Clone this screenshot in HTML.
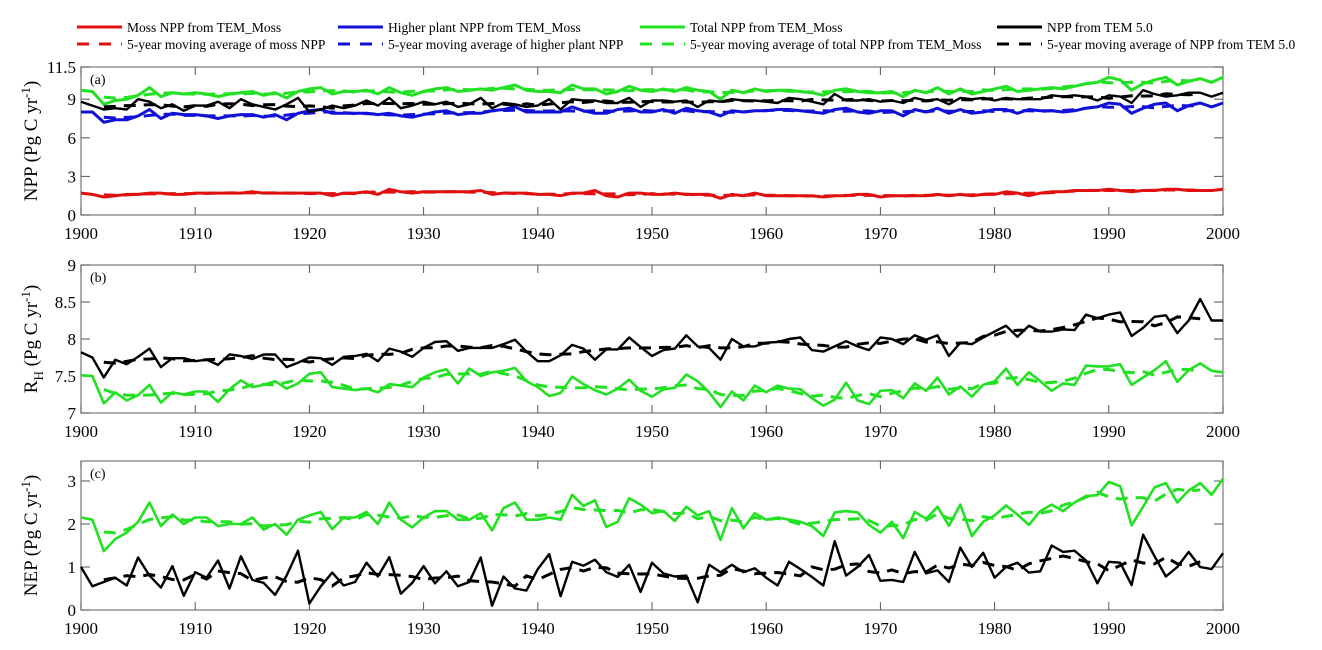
<!DOCTYPE html>
<html><head><meta charset="utf-8"><style>
html,body{margin:0;padding:0;background:#fff;}
svg{display:block;font-family:"Liberation Serif",serif;}
</style></head><body>
<svg id="chart" width="1322" height="650" viewBox="0 0 1322 650" xmlns="http://www.w3.org/2000/svg">
<g id="legend" font-size="13.5" fill="#000"></g>
</svg>
<script>
const years = []; for (let y = 1900; y <= 2000; y++) years.push(y);
const mossNPP = [1.7,1.6,1.4,1.5,1.6,1.6,1.7,1.7,1.6,1.6, 1.7,1.7,1.7,1.7,1.7,1.8,1.7,1.7,1.7,1.7, 1.7,1.7,1.5,1.7,1.7,1.8,1.6,2.0,1.8,1.7, 1.8,1.8,1.8,1.8,1.8,1.9,1.6,1.7,1.7,1.7, 1.6,1.6,1.5,1.7,1.7,1.9,1.5,1.4,1.7,1.7, 1.6,1.6,1.7,1.6,1.6,1.6,1.3,1.6,1.5,1.7, 1.5,1.5,1.5,1.5,1.5,1.4,1.5,1.5,1.6,1.6, 1.4,1.5,1.5,1.5,1.5,1.6,1.5,1.6,1.5,1.6, 1.6,1.8,1.7,1.5,1.7,1.8,1.8,1.9,1.9,1.9, 2.0,1.9,1.8,1.9,1.9,2.0,2.0,1.9,1.9,1.9, 2.0];
const higherNPP = [8.0,8.0,7.2,7.4,7.4,7.7,8.2,7.5,7.9,7.8, 7.8,7.7,7.5,7.7,7.8,7.8,7.6,7.8,7.4,7.9, 8.1,8.2,7.9,7.9,7.9,7.9,7.8,7.9,7.7,7.6, 7.8,8.0,8.1,7.8,7.9,7.9,8.1,8.2,8.4,8.0, 8.0,8.0,8.0,8.4,8.1,7.9,7.9,8.2,8.3,8.0, 8.0,8.2,7.9,8.3,8.1,8.0,7.7,8.1,8.0,8.1, 8.1,8.2,8.2,8.1,8.0,7.9,8.2,8.3,8.0,7.9, 8.1,8.1,7.7,8.2,8.0,8.3,7.9,8.2,7.9,8.0, 8.2,8.2,7.9,8.2,8.1,8.1,8.0,8.1,8.3,8.4, 8.7,8.6,7.9,8.3,8.6,8.7,8.1,8.5,8.7,8.4, 8.7];
const totalNPP = [9.7,9.6,8.6,8.9,9.0,9.3,9.9,9.2,9.5,9.4, 9.5,9.4,9.2,9.4,9.5,9.6,9.3,9.5,9.1,9.6, 9.8,9.9,9.4,9.6,9.6,9.7,9.4,9.9,9.5,9.3, 9.6,9.8,9.9,9.6,9.7,9.8,9.7,9.9,10.1,9.7, 9.6,9.6,9.5,10.1,9.8,9.8,9.4,9.6,10.0,9.7, 9.6,9.8,9.6,9.9,9.7,9.6,9.0,9.7,9.5,9.8, 9.6,9.7,9.7,9.6,9.5,9.3,9.7,9.8,9.6,9.5, 9.5,9.6,9.2,9.7,9.5,9.9,9.4,9.8,9.4,9.6, 9.8,10.0,9.6,9.7,9.8,9.9,9.8,10.0,10.2,10.3, 10.7,10.5,9.7,10.2,10.5,10.7,10.1,10.4,10.6,10.3, 10.7];
const tem5NPP = [8.8,8.5,8.2,8.3,8.2,9.0,8.8,8.3,8.6,8.1, 8.5,8.5,8.8,8.3,9.0,8.6,8.4,8.2,8.6,9.1, 8.0,8.2,8.5,8.3,8.5,8.9,8.5,9.1,8.3,8.5, 8.8,8.6,8.8,8.4,8.6,9.1,8.3,8.7,8.6,8.4, 8.5,9.0,8.2,9.0,8.9,8.9,8.7,8.7,9.1,8.4, 8.9,8.9,8.8,8.9,8.4,8.9,8.8,9.0,8.9,8.9, 8.8,8.7,9.1,9.0,8.8,8.6,9.4,8.9,8.9,9.0, 8.8,8.9,8.7,9.1,8.9,9.0,8.6,9.1,9.0,9.1, 8.9,9.1,9.0,9.0,9.0,9.3,9.2,9.3,9.2,8.9, 9.3,9.2,8.7,9.7,9.4,9.2,9.3,9.5,9.5,9.2, 9.5];
const rhTEM5 = [7.82,7.75,7.48,7.72,7.66,7.76,7.87,7.62,7.74,7.74, 7.70,7.72,7.65,7.79,7.77,7.73,7.79,7.79,7.62,7.68, 7.75,7.74,7.65,7.76,7.77,7.80,7.70,7.87,7.83,7.76, 7.88,7.96,7.97,7.84,7.88,7.88,7.88,7.93,7.99,7.83, 7.70,7.70,7.78,7.92,7.87,7.72,7.86,7.86,8.02,7.89, 7.77,7.85,7.87,8.05,7.90,7.88,7.72,8.00,7.90,7.90, 7.95,7.96,8.00,8.02,7.85,7.83,7.90,7.97,7.90,7.85, 8.02,8.00,7.93,8.05,7.99,8.05,7.77,7.95,7.93,8.02, 8.10,8.18,8.03,8.18,8.10,8.10,8.13,8.12,8.33,8.28, 8.33,8.36,8.04,8.15,8.30,8.32,8.08,8.25,8.54,8.25, 8.25];
const rhMoss = [7.51,7.50,7.13,7.28,7.17,7.24,7.38,7.14,7.28,7.25, 7.29,7.29,7.15,7.32,7.44,7.35,7.38,7.43,7.33,7.40, 7.53,7.55,7.35,7.33,7.31,7.33,7.28,7.39,7.37,7.35, 7.48,7.55,7.59,7.40,7.60,7.50,7.55,7.57,7.61,7.43, 7.35,7.23,7.27,7.49,7.39,7.31,7.25,7.33,7.45,7.30, 7.22,7.32,7.34,7.52,7.43,7.28,7.08,7.29,7.17,7.37, 7.28,7.37,7.33,7.32,7.20,7.10,7.18,7.41,7.17,7.12, 7.30,7.31,7.20,7.40,7.30,7.48,7.25,7.36,7.22,7.38, 7.43,7.60,7.38,7.55,7.43,7.30,7.40,7.38,7.64,7.63, 7.63,7.66,7.38,7.48,7.58,7.70,7.42,7.58,7.67,7.57, 7.55];
const nepMoss = [2.15,2.10,1.37,1.65,1.80,2.05,2.50,1.95,2.22,2.00, 2.15,2.15,1.95,2.00,2.00,2.15,1.87,2.00,1.75,2.10, 2.20,2.28,1.88,2.15,2.15,2.28,2.00,2.50,2.10,1.92, 2.15,2.30,2.30,2.10,2.10,2.25,1.85,2.37,2.50,2.10, 2.10,2.15,2.10,2.68,2.42,2.55,1.93,2.05,2.60,2.45, 2.25,2.30,2.07,2.40,2.20,2.30,1.63,2.37,1.90,2.25, 2.10,2.15,2.10,2.05,1.95,1.72,2.27,2.30,2.27,1.98, 1.80,2.05,1.67,2.28,2.12,2.40,1.96,2.45,1.72,2.05, 2.20,2.43,2.22,1.98,2.30,2.45,2.30,2.50,2.65,2.67, 2.98,2.88,1.97,2.40,2.85,2.95,2.50,2.78,2.95,2.68, 3.05];
const nepTEM5 = [1.00,0.55,0.65,0.75,0.57,1.22,0.80,0.52,1.02,0.33, 0.88,0.75,1.15,0.50,1.25,0.70,0.63,0.35,0.80,1.38, 0.15,0.55,0.87,0.57,0.65,1.10,0.78,1.23,0.38,0.63, 1.02,0.62,0.90,0.55,0.65,1.22,0.10,0.78,0.50,0.45, 0.95,1.30,0.32,1.12,1.03,1.17,0.88,0.77,1.05,0.42, 1.10,0.85,0.78,0.80,0.18,1.05,0.88,1.05,0.88,0.97, 0.75,0.57,1.12,0.95,0.77,0.57,1.60,0.80,1.00,1.28, 0.68,0.70,0.65,1.35,0.85,0.92,0.65,1.45,1.00,1.33, 0.75,1.00,1.10,0.87,0.90,1.50,1.35,1.38,1.15,0.62, 1.12,1.10,0.58,1.75,1.25,0.78,1.00,1.35,1.00,0.95, 1.32];
const xTicks = [1900,1910,1920,1930,1940,1950,1960,1970,1980,1990,2000];
const aTicks = [0,3,6,9,11.5];
const bTicks = [7,7.5,8,8.5,9];
const cTicks = [0,1,2,3];

const NS = "http://www.w3.org/2000/svg";
const svg = document.getElementById('chart');
const X0 = 81, X1 = 1223;
const RED = '#e01010', BLUE = '#1010d8', GREEN = '#22e022', BLACK = '#000';
function el(tag, attrs, parent) {
  const e = document.createElementNS(NS, tag);
  for (const k in attrs) e.setAttribute(k, attrs[k]);
  parent.appendChild(e); return e;
}
function xs(yr) { return X0 + (yr - 1900) / 100 * (X1 - X0); }
function movAvg(arr) {
  const out = [];
  for (let i = 2; i < arr.length - 2; i++) {
    out.push([years[i], (arr[i-2]+arr[i-1]+arr[i]+arr[i+1]+arr[i+2]) / 5]);
  }
  return out;
}

function panel(cfg) {
  const g = el('g', {}, svg);
  
  
  const ys = v => cfg.bottom - (v - cfg.min) / (cfg.max - cfg.min) * (cfg.bottom - cfg.top);
  const frame = el('rect', {x: X0, y: cfg.top, width: X1 - X0, height: cfg.bottom - cfg.top, fill: 'none', stroke: '#777', 'stroke-width': 1.2}, g);
  
  
  xTicks.forEach(t => {
    const x = xs(t);
    el('line', {x1: x, x2: x, y1: cfg.bottom, y2: cfg.bottom - 8, stroke: '#555', 'stroke-width': 1}, g);
    el('line', {x1: x, x2: x, y1: cfg.top, y2: cfg.top + 8, stroke: '#555', 'stroke-width': 1}, g);
    const tl = el('text', {x: x, y: cfg.bottom + 24, 'text-anchor': 'middle', 'font-size': 17}, g);
    tl.textContent = t;
    
    
  });
  cfg.ticks.forEach(t => {
    const y = ys(t);
    el('line', {x1: X0, x2: X0 + 9, y1: y, y2: y, stroke: '#555', 'stroke-width': 1}, g);
    el('line', {x1: X1, x2: X1 - 9, y1: y, y2: y, stroke: '#555', 'stroke-width': 1}, g);
    const tl = el('text', {x: X0 - 5, y: y + 6, 'text-anchor': 'end', 'font-size': 17}, g);
    tl.textContent = t;
    
    
  });
  const pl = el('text', {x: X0 + 9, y: cfg.top + 17, 'font-size': 14}, g);
  pl.textContent = cfg.label;
  
  
  const cy = (cfg.top + cfg.bottom) / 2;
  const yt = el('text', {x: 0, y: 0, 'text-anchor': 'middle', 'font-size': 19, transform: `translate(37,${cy}) rotate(-90)`}, g);
  yt.innerHTML = cfg.title;
  
  
  cfg.series.forEach(s => {
    const pts = s.data.map((v, i) => xs(years[i]).toFixed(1) + ',' + ys(v).toFixed(1)).join(' ');
    const ma = movAvg(s.data).map(p => xs(p[0]).toFixed(1) + ',' + ys(p[1]).toFixed(1)).join(' ');
    const d = el('polyline', {points: ma, fill: 'none', stroke: s.color, 'stroke-width': 3, 'stroke-dasharray': '12 8'}, g);
    
    
    const l = el('polyline', {points: pts, fill: 'none', stroke: s.color, 'stroke-width': s.w || 2.6, 'stroke-linejoin': 'round'}, g);
    
    
  });
}

panel({name: 'panel-a-npp', label: '(a)', top: 67, bottom: 215, min: 0, max: 11.5, ticks: aTicks,
  title: 'NPP (Pg C yr<tspan dy="-7" font-size="13">-1</tspan><tspan dy="7">)</tspan>',
  series: [
    {name: 'moss-npp', data: mossNPP, color: RED, w: 3},
    {name: 'higher-plant-npp', data: higherNPP, color: BLUE, w: 3},
    {name: 'total-npp', data: totalNPP, color: GREEN, w: 3},
    {name: 'tem5-npp', data: tem5NPP, color: BLACK, w: 2.4}
  ]});
panel({name: 'panel-b-rh', label: '(b)', top: 265, bottom: 413, min: 7, max: 9, ticks: bTicks,
  title: 'R<tspan dy="6" font-size="13">H</tspan><tspan dy="-6"> (Pg C yr</tspan><tspan dy="-7" font-size="13">-1</tspan><tspan dy="7">)</tspan>',
  series: [
    {name: 'rh-tem5', data: rhTEM5, color: BLACK, w: 2.4},
    {name: 'rh-tem-moss', data: rhMoss, color: GREEN, w: 2.6}
  ]});
panel({name: 'panel-c-nep', label: '(c)', top: 461, bottom: 610, min: 0, max: 3.465, ticks: cTicks,
  title: 'NEP (Pg C yr<tspan dy="-7" font-size="13">-1</tspan><tspan dy="7">)</tspan>',
  series: [
    {name: 'nep-tem5', data: nepTEM5, color: BLACK, w: 2.4},
    {name: 'nep-tem-moss', data: nepMoss, color: GREEN, w: 2.6}
  ]});

const legend = document.getElementById('legend');
const legendItems = [
  {x: 77, y: 27, c: RED, dash: false, t: 'Moss NPP from TEM_Moss'},
  {x: 77, y: 44, c: RED, dash: true, t: '5-year moving average of moss NPP'},
  {x: 338, y: 27, c: BLUE, dash: false, t: 'Higher plant NPP from TEM_Moss'},
  {x: 338, y: 44, c: BLUE, dash: true, t: '5-year moving average of higher plant NPP'},
  {x: 640, y: 27, c: GREEN, dash: false, t: 'Total NPP from TEM_Moss'},
  {x: 640, y: 44, c: GREEN, dash: true, t: '5-year moving average of total NPP from TEM_Moss'},
  {x: 997, y: 27, c: BLACK, dash: false, t: 'NPP from TEM 5.0'},
  {x: 997, y: 44, c: BLACK, dash: true, t: '5-year moving average of NPP from TEM 5.0'}
];
legendItems.forEach(it => {
  const g = el('g', {}, legend);
  
  
  el('line', {x1: it.x, x2: it.x + 45, y1: it.y, y2: it.y, stroke: it.c, 'stroke-width': 3, 'stroke-dasharray': it.dash ? '12 10' : 'none'}, g);
  const t = el('text', {x: it.x + 50, y: it.y + 5}, g);
  t.textContent = it.t;
});
</script>
</body></html>
